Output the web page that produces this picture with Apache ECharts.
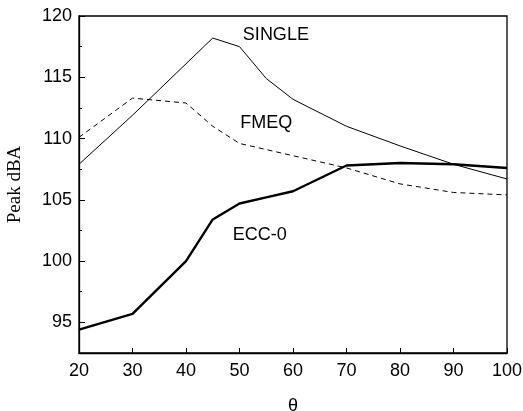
<!DOCTYPE html>
<html>
<head>
<meta charset="utf-8">
<script src="https://cdn.jsdelivr.net/npm/echarts@6/dist/echarts.min.js"></script>
<style>
  html, body { margin: 0; padding: 0; background: #fff; }
  #chart { width: 523px; height: 411px; }
</style>
</head>
<body>
<div id="chart"></div>
<script>
// Peak noise level vs. angle for three configurations
const theta = [20, 30, 40, 45, 50, 55, 60, 70, 80, 90, 100];
const single = [107.9, 111.9, 116.1, 118.2, 117.5, 114.9, 113.2, 111.0, 109.4, 107.9, 106.7];
const fmeq   = [110.1, 113.3, 112.9, 111.0, 109.6, 109.1, 108.6, 107.6, 106.3, 105.6, 105.4];
const ecc0   = [94.4, 95.7, 100.0, 103.4, 104.7, 105.2, 105.7, 107.8, 108.0, 107.9, 107.6];

const xTicks = [20, 30, 40, 50, 60, 70, 80, 90, 100];
const yTicks = [95, 100, 105, 110, 115, 120];
const yMinorTicks = [97.5, 102.5, 107.5, 112.5, 117.5];

const seriesNames = ['SINGLE', 'FMEQ', 'ECC-0'];
// label anchor points in data space [theta, dBA]
const labelAnchors = [[56.8, 118.45], [55.0, 111.3], [53.8, 102.1]];

const sans = '"Liberation Sans", Arial, Helvetica, sans-serif';
const serif = '"Liberation Serif", "Times New Roman", serif';

const pair = (xs, ys) => xs.map((x, i) => [x, ys[i]]);

const chart = echarts.init(document.getElementById('chart'), null, { renderer: 'canvas' });

const option = {
  animation: false,
  backgroundColor: '#fff',
  grid: {
    left: 79, top: 16, right: 16, bottom: 58,
    outerBoundsMode: 'none', containLabel: false,
    show: true, borderColor: '#000', borderWidth: 1.3, backgroundColor: 'transparent'
  },
  xAxis: {
    type: 'value', min: 20, max: 100, interval: 10,
    name: 'θ', nameLocation: 'middle', nameGap: 44,
    nameTextStyle: { fontFamily: sans, fontSize: 18, color: '#000' },
    axisLine: { show: true, lineStyle: { color: '#000', width: 1.3 } },
    axisTick: { show: true, inside: true, length: 5, customValues: xTicks,
      lineStyle: { color: '#000', width: 1 } },
    axisLabel: { fontFamily: sans, fontSize: 18, color: '#000', margin: 9,
      customValues: xTicks },
    splitLine: { show: false }
  },
  yAxis: [{
    type: 'value', min: 92.5, max: 120, interval: 2.5,
    name: 'Peak dBA', nameLocation: 'middle', nameGap: 54,
    nameTextStyle: { fontFamily: serif, fontSize: 19, color: '#000' },
    axisLine: { show: true, lineStyle: { color: '#000', width: 1.3 } },
    axisTick: { show: true, inside: true, length: 6, customValues: yTicks,
      lineStyle: { color: '#000', width: 1 } },
    axisLabel: { fontFamily: sans, fontSize: 18, color: '#000', margin: 7,
      customValues: yTicks },
    splitLine: { show: false }
  }, {
    type: 'value', min: 92.5, max: 120, interval: 2.5, position: 'left',
    axisLine: { show: false },
    axisTick: { show: true, inside: true, length: 3, customValues: yMinorTicks,
      lineStyle: { color: '#000', width: 1 } },
    axisLabel: { show: false },
    splitLine: { show: false }
  }],
  series: [
    { name: seriesNames[0], type: 'line', data: pair(theta, single), symbol: 'none',
      lineStyle: { color: '#000', width: 1 } },
    { name: seriesNames[1], type: 'line', data: pair(theta, fmeq), symbol: 'none',
      lineStyle: { color: '#000', width: 1, type: [5, 4] } },
    { name: seriesNames[2], type: 'line', data: pair(theta, ecc0), symbol: 'none',
      lineStyle: { color: '#000', width: 2.4 } }
  ]
};

chart.setOption(option);

// curve labels placed at data-space anchors
const graphics = seriesNames.map((name, i) => {
  const p = chart.convertToPixel({ gridIndex: 0 }, labelAnchors[i]);
  return {
    type: 'text', x: p[0], y: p[1],
    style: { text: name, fontFamily: sans, fontSize: 18, fill: '#000',
      align: 'center', verticalAlign: 'middle' }
  };
});
chart.setOption({ graphic: graphics });
</script>
</body>
</html>
